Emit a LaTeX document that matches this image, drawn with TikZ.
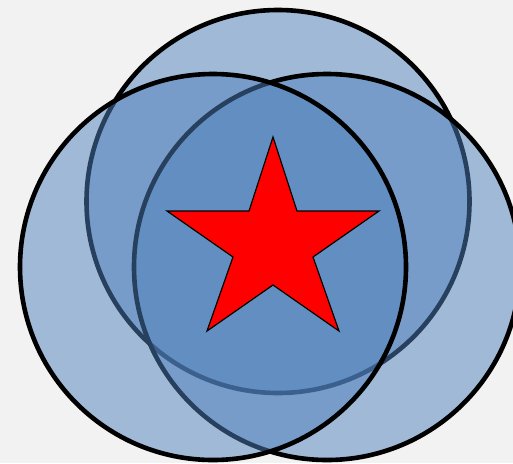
\documentclass[tikz,border=0pt]{standalone}
\definecolor{bgc}{HTML}{F2F2F2}
\definecolor{blobblue}{HTML}{4F81BD}
\tikzset{
  blob/.style={fill=blobblue, fill opacity=0.5, draw=black, draw opacity=1, line width=4.6pt},
  starshape/.style={fill=red, draw=black, line width=1.2pt, line join=miter}
}
\begin{document}
\begin{tikzpicture}[x=1pt,y=-1pt]
\fill[bgc] (0,0) rectangle (513,463);
\useasboundingbox (0,0) rectangle (513,463);
% top, right, left circles (drawing order matters)
\draw[blob] (278,201.5) circle (191.5);
\draw[blob] (327,267) circle (193);
\draw[blob] (213,267) circle (193);
% star
\draw[starshape] (273,137) -- (249,211) -- (167,211) -- (233,257) -- (207,331)
  -- (273,285) -- (339,331) -- (313,257) -- (379,211) -- (297,211) -- cycle;
\end{tikzpicture}
\end{document}
